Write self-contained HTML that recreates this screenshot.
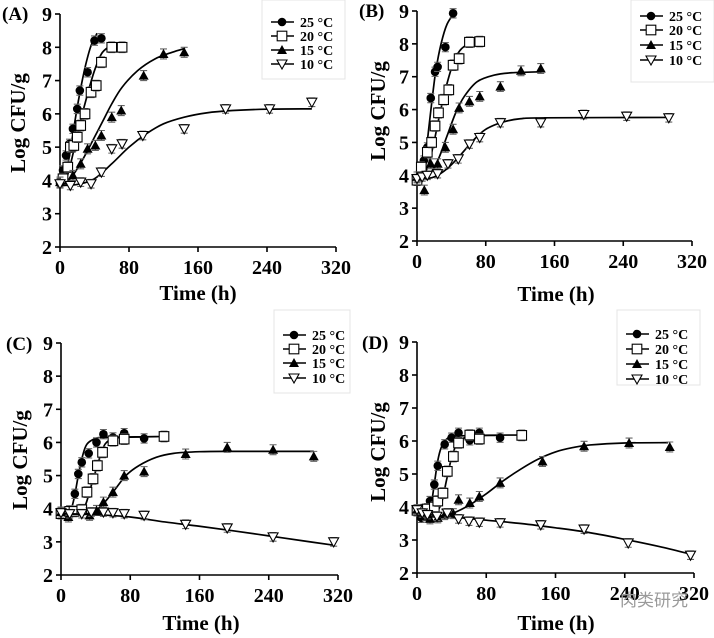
<!DOCTYPE html>
<html><head><meta charset="utf-8">
<style>
html,body{margin:0;padding:0;background:#fff;}
svg{display:block;font-family:"Liberation Serif",serif;font-weight:bold;}
</style></head>
<body>
<svg id="fig" width="714" height="638" viewBox="0 0 714 638" xmlns="http://www.w3.org/2000/svg"></svg>
<script>
// ---- Data: observed points [time h, log CFU/g] ----
const A25=[[0,3.92],[3.5,4.3],[7,4.75],[11,5.1],[15,5.55],[20,6.15],[23,6.7],[32,7.25],[40,8.2],[48,8.27]];
const A20=[[3.5,4.05],[9,4.4],[12,5.0],[16,5.05],[20,5.3],[24,5.65],[29,6.0],[36,6.65],[42,6.85],[48,7.55],[60,8.0],[72,8.0]];
const A15=[[0,3.95],[15,4.15],[24,4.5],[32,4.95],[41,5.05],[48,5.35],[60,5.9],[71,6.1],[97,7.15],[120,7.8],[144,7.85]];
const A10=[[0,3.9],[12,3.85],[24,3.95],[36,3.9],[48,4.25],[60,4.95],[72,5.1],[96,5.35],[144,5.55],[192,6.15],[243,6.15],[292,6.35]];
const B25=[[0,3.85],[3.5,4.1],[8,4.45],[12,4.85],[16,6.35],[21,7.15],[24,7.3],[33,7.9],[42,8.93]];
const B20=[[0,3.85],[5,4.25],[12,4.7],[17,5.0],[21,5.5],[25,5.9],[31,6.3],[37,6.6],[42,7.35],[49,7.55],[61,8.05],[73,8.07]];
const B15=[[0,3.95],[8.5,3.55],[16,4.35],[24,4.35],[33,4.85],[42,5.4],[49,6.05],[61,6.25],[73,6.4],[97,6.7],[121,7.18],[144,7.25]];
const B10=[[0,3.9],[6,3.95],[12,4.0],[24,4.05],[36,4.35],[48,4.5],[61,4.95],[73,5.15],[97,5.6],[144,5.6],[194,5.85],[244,5.8],[293,5.75]];
const C25=[[0,3.9],[4.6,3.9],[10,3.95],[16,4.45],[20,5.05],[24,5.4],[32,5.67],[41,6.0],[49,6.25],[60,6.15],[73,6.28],[96,6.12]];
const C20=[[0,3.85],[10,3.92],[15,3.92],[24,3.97],[30,4.5],[37,4.9],[42,5.3],[48,5.7],[60,6.05],[73,6.1],[119,6.18]];
const C15=[[0,3.9],[8.5,3.75],[33,3.8],[41,3.95],[49,4.2],[60,4.5],[73,5.0],[96,5.12],[144,5.65],[192,5.85],[245,5.78],[292,5.58]];
const C10=[[0,3.88],[10,3.85],[24,3.85],[35,3.9],[49,3.9],[60,3.88],[73,3.85],[96,3.8],[144,3.53],[192,3.42],[245,3.15],[315,3.0]];
const D25=[[0,3.87],[5,3.67],[10,3.72],[15,4.18],[20,4.68],[24,5.25],[32,5.9],[40,6.1],[48,6.25],[61,6.02],[72,6.25],[96,6.1]];
const D20=[[0,3.9],[8,3.92],[12,3.94],[20,4.0],[24,4.18],[30,4.42],[35,5.08],[42,5.53],[48,5.94],[61,6.18],[72,6.06],[121,6.17]];
const D15=[[0,3.92],[15,3.64],[24,3.67],[32,3.77],[42,3.8],[48,4.22],[61,4.12],[72,4.32],[96,4.73],[145,5.38],[193,5.84],[245,5.94],[292,5.82]];
const D10=[[0,3.92],[6,3.82],[12,3.77],[23,3.72],[35,3.82],[48,3.64],[60,3.57],[72,3.54],[96,3.52],[143,3.46],[193,3.33],[244,2.91],[316,2.54]];
// ---- Fitted curves [time h, log CFU/g] ----
const A25f=[[0,3.85],[5,3.95],[10,4.6],[15,5.4],[20,6.2],[25,6.9],[30,7.5],[36,8.05],[43,8.42]];
const A20f=[[0,3.85],[8,4.1],[16,4.9],[24,5.8],[32,6.6],[40,7.3],[48,7.8],[56,8.0],[63,8.08]];
const A15f=[[0,3.85],[10,4.0],[20,4.35],[30,4.8],[40,5.3],[50,5.8],[60,6.3],[72,6.8],[90,7.3],[110,7.65],[130,7.85],[145,7.97]];
const A10f=[[0,3.85],[20,3.88],[40,4.05],[60,4.5],[80,5.0],[100,5.4],[120,5.7],[144,5.9],[170,6.03],[200,6.1],[240,6.14],[292,6.15]];
const B25f=[[0,3.85],[6,4.1],[10,4.6],[14,5.5],[18,6.4],[22,7.2],[28,8.0],[35,8.6],[45,9.0]];
const B20f=[[0,3.85],[10,4.1],[18,4.8],[26,5.8],[34,6.7],[42,7.4],[50,7.8],[60,8.0],[70,8.05]];
const B15f=[[0,3.85],[15,4.05],[25,4.5],[35,5.2],[45,5.9],[55,6.4],[70,6.85],[90,7.05],[110,7.12],[145,7.15]];
const B10f=[[0,3.85],[20,3.95],[35,4.2],[50,4.6],[65,5.05],[80,5.4],[100,5.62],[120,5.72],[150,5.75],[293,5.76]];
const C25f=[[0,3.85],[10,3.9],[15,4.3],[20,5.0],[25,5.6],[30,5.95],[40,6.12],[50,6.15],[96,6.17]];
const C20f=[[0,3.85],[20,3.88],[28,4.1],[35,4.7],[42,5.3],[48,5.8],[55,6.05],[70,6.15],[120,6.18]];
const C15f=[[0,3.85],[30,3.85],[45,4.05],[60,4.5],[75,5.0],[90,5.3],[110,5.55],[130,5.67],[160,5.72],[200,5.73],[292,5.73]];
const C10f=[[0,3.85],[40,3.82],[80,3.75],[120,3.6],[160,3.47],[200,3.33],[240,3.18],[280,3.03],[315,2.9]];
const D25f=[[0,3.7],[12,3.7],[16,4.0],[20,4.7],[24,5.4],[28,5.8],[34,6.05],[45,6.15],[96,6.17]];
const D20f=[[0,3.85],[20,3.85],[28,4.1],[34,4.8],[40,5.5],[46,5.9],[55,6.1],[70,6.17],[120,6.18]];
const D15f=[[0,3.75],[20,3.7],[40,3.8],[60,4.05],[80,4.4],[100,4.8],[120,5.15],[140,5.45],[160,5.67],[180,5.8],[200,5.88],[240,5.94],[290,5.95]];
const D10f=[[0,3.8],[40,3.7],[80,3.6],[120,3.5],[160,3.37],[200,3.22],[240,3.02],[280,2.8],[316,2.57]];
const errBar=[0.14,0.16,0.15,0.13];
const xTicks=[0,80,160,240,320];
const yTicks=[2,3,4,5,6,7,8,9];
const seriesLabels=["25 °C","20 °C","15 °C","10 °C"];

const NS="http://www.w3.org/2000/svg";
const svg=document.getElementById('fig');
function mk(tag,attrs,parent){const e=document.createElementNS(NS,tag);for(const k in attrs)e.setAttribute(k,attrs[k]);(parent||svg).appendChild(e);return e;}

const panels=[
 {id:'a',label:'(A)',lx:2,ly:20,x0:60,x1:336,yTop:14,yBot:247,pts:[A25,A20,A15,A10],fit:[A25f,A20f,A15f,A10f],title:[18,123],time:[198,300],leg:[262,0,83,79,[22,36,50,64]]},
 {id:'b',label:'(B)',lx:359,ly:17,x0:417,x1:692,yTop:11,yBot:241,pts:[B25,B20,B15,B10],fit:[B25f,B20f,B15f,B10f],title:[378,111],time:[556,301],leg:[631,0,83,82,[16,30,45,60]]},
 {id:'c',label:'(C)',lx:6,ly:350,x0:61,x1:338,yTop:343,yBot:575,pts:[C25,C20,C15,C10],fit:[C25f,C20f,C15f,C10f],title:[20,460],time:[201,630],leg:[274,310,76,83,[335,349,363,378]]},
 {id:'d',label:'(D)',lx:362,ly:349,x0:417,x1:694,yTop:342,yBot:573,pts:[D25,D20,D15,D10],fit:[D25f,D20f,D15f,D10f],title:[378,452],time:[556,630],leg:[617,310,83,75,[334,349,364,379]]}
];

function smoothPath(p){
  let d='M'+p[0][0].toFixed(2)+','+p[0][1].toFixed(2);
  for(let i=0;i<p.length-1;i++){
    const p0=p[i-1]||p[i],p1=p[i],p2=p[i+1],p3=p[i+2]||p2;
    const c1=[p1[0]+(p2[0]-p0[0])/6,p1[1]+(p2[1]-p0[1])/6];
    const c2=[p2[0]-(p3[0]-p1[0])/6,p2[1]-(p3[1]-p1[1])/6];
    d+=' C'+c1[0].toFixed(2)+','+c1[1].toFixed(2)+' '+c2[0].toFixed(2)+','+c2[1].toFixed(2)+' '+p2[0].toFixed(2)+','+p2[1].toFixed(2);
  }
  return d;
}
function marker(g,k,x,y){
  let m;
  if(k===0){m=mk('circle',{cx:x,cy:y,r:4.3,fill:'#000'},g);}
  else if(k===1){m=mk('rect',{x:x-4.8,y:y-4.8,width:9.6,height:9.6,fill:'#fff',stroke:'#000','stroke-width':1.1},g);}
  else if(k===2){m=mk('polygon',{points:`${x},${y-5} ${x+5},${y+4} ${x-5},${y+4}`,fill:'#000'},g);}
  else {m=mk('polygon',{points:`${x-5},${y-4} ${x+5},${y-4} ${x},${y+5}`,fill:'#fff',stroke:'#000','stroke-width':1.1},g);}
  return m;
}

panels.forEach(P=>{
  const g=mk('g',{});
  
  
  const sx=t=>P.x0+(t/320)*(P.x1-P.x0);
  const sy=v=>P.yBot-((v-2)/7)*(P.yBot-P.yTop);
  const pl=mk('text',{x:P.lx,y:P.ly,'font-size':19},g);pl.textContent=P.label;
  
  
  const ax=mk('g',{stroke:'#000','stroke-width':1.6},g);
  
  
  mk('line',{x1:P.x0,y1:P.yTop,x2:P.x0,y2:P.yBot},ax);
  mk('line',{x1:P.x0,y1:P.yBot,x2:P.x1,y2:P.yBot},ax);
  yTicks.forEach(v=>{
    mk('line',{x1:P.x0-5,y1:sy(v),x2:P.x0,y2:sy(v)},ax);
    const t=mk('text',{x:P.x0-8,y:sy(v)+7,'text-anchor':'end','font-size':20},g);t.textContent=v;
    
    
  });
  xTicks.forEach(v=>{
    mk('line',{x1:sx(v),y1:P.yBot,x2:sx(v),y2:P.yBot+5},ax);
    const t=mk('text',{x:sx(v),y:P.yBot+27,'text-anchor':'middle','font-size':20},g);t.textContent=v;
    
    
  });
  const yt=mk('text',{x:P.title[0],y:P.title[1],'text-anchor':'middle','font-size':21,transform:`rotate(-90 ${P.title[0]} ${P.title[1]})`,'dominant-baseline':'central'},g);
  yt.textContent='Log CFU/g';
  
  
  const xt=mk('text',{x:P.time[0],y:P.time[1],'text-anchor':'middle','font-size':21},g);
  xt.textContent='Time (h)';
  
  
  for(let k=0;k<4;k++){
    const sg=mk('g',{},g);
    
    
    const path=mk('path',{d:smoothPath(P.fit[k].map(q=>[sx(q[0]),sy(q[1])])),fill:'none',stroke:'#000','stroke-width':1.7},sg);
    
    
    P.pts[k].forEach(q=>{
      const x=sx(q[0]),y=sy(q[1]),e=errBar[k]*(P.yBot-P.yTop)/7;
      const eb=mk('path',{d:`M${x},${y-e}V${y+e}M${x-3.5},${y-e}H${x+3.5}M${x-3.5},${y+e}H${x+3.5}`,stroke:'#666','stroke-width':1.1,fill:'none'},sg);
      
      
      const m=marker(sg,k,x,y);
      
      
    });
  }
  const L=P.leg;
  const lg=mk('g',{},g);
  
  
  mk('rect',{x:L[0],y:L[1],width:L[2],height:L[3],fill:'#fff',stroke:'#e4e4e4','stroke-width':1},lg);
  for(let k=0;k<4;k++){
    const ly=L[4][k];
    const le=mk('g',{},lg);
    
    
    mk('line',{x1:L[0]+9,y1:ly,x2:L[0]+32,y2:ly,stroke:'#000','stroke-width':1.5},le);
    marker(le,k,L[0]+20,ly);
    const t=mk('text',{x:L[0]+38,y:ly+5,'font-size':14},le);t.textContent=seriesLabels[k];
  }
});
const wm=mk('text',{x:620,y:606,'font-size':17,fill:'#9a9a9a','font-weight':'normal','font-family':'"Liberation Sans","Noto Sans CJK SC",sans-serif'});
wm.textContent='肉类研究';


</script>
</body></html>
